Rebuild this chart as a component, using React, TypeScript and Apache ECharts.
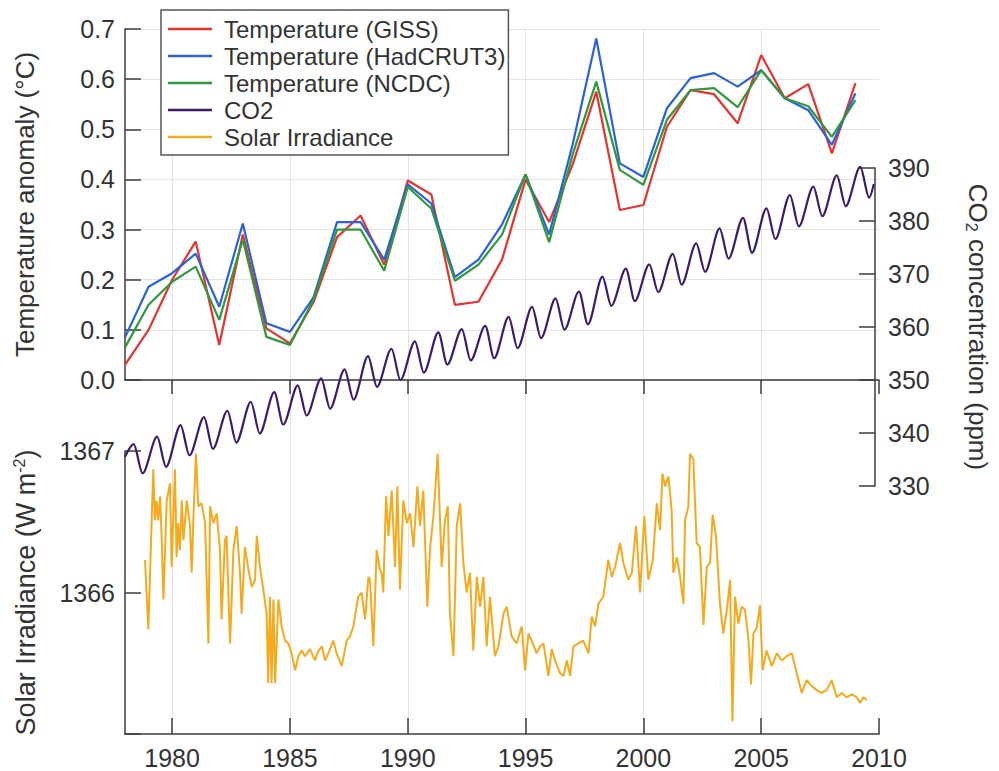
import React, { useEffect, useRef } from 'react';
import * as echarts from 'echarts';

// ---------- data ----------
const years = [1978, 1979, 1980, 1981, 1982, 1983, 1984, 1985, 1986, 1987, 1988, 1989, 1990, 1991, 1992, 1993,
  1994, 1995, 1996, 1997, 1998, 1999, 2000, 2001, 2002, 2003, 2004, 2005, 2006, 2007, 2008, 2009];

const tempGISS = [0.03, 0.10, 0.20, 0.276, 0.07, 0.29, 0.103, 0.073, 0.155, 0.285, 0.328, 0.23, 0.398, 0.37, 0.15, 0.156,
  0.24, 0.40, 0.315, 0.43, 0.575, 0.339, 0.349, 0.505, 0.578, 0.57, 0.512, 0.648, 0.562, 0.59, 0.452, 0.592];
const tempHadCRUT3 = [0.085, 0.186, 0.213, 0.252, 0.146, 0.312, 0.113, 0.096, 0.165, 0.315, 0.315, 0.24, 0.39, 0.352, 0.205, 0.24,
  0.31, 0.41, 0.29, 0.47, 0.681, 0.432, 0.405, 0.542, 0.602, 0.612, 0.585, 0.618, 0.562, 0.538, 0.469, 0.572];
const tempNCDC = [0.065, 0.15, 0.196, 0.226, 0.12, 0.28, 0.086, 0.07, 0.16, 0.30, 0.30, 0.218, 0.385, 0.342, 0.198, 0.23,
  0.29, 0.41, 0.275, 0.45, 0.595, 0.419, 0.389, 0.519, 0.578, 0.582, 0.544, 0.618, 0.562, 0.546, 0.485, 0.558];

// CO2 (ppm): start, then seasonal maxima / minima of each year [year, ppm]
const co2Series = [
  [1978.0, 335.5], [1978.37, 337.9], [1978.75, 332.4],
  [1979.37, 339.3], [1979.75, 333.6],
  [1980.37, 341.5], [1980.75, 335.8],
  [1981.37, 343.0], [1981.75, 337.0],
  [1982.37, 344.2], [1982.75, 338.2],
  [1983.37, 345.9], [1983.75, 339.9],
  [1984.37, 347.7], [1984.75, 341.6],
  [1985.37, 349.0], [1985.75, 343.3],
  [1986.37, 350.3], [1986.75, 344.6],
  [1987.37, 352.0], [1987.75, 346.3],
  [1988.37, 354.5], [1988.75, 348.7],
  [1989.37, 355.9], [1989.75, 350.0],
  [1990.37, 357.3], [1990.75, 351.4],
  [1991.37, 359.0], [1991.75, 352.9],
  [1992.37, 359.6], [1992.75, 353.7],
  [1993.37, 360.2], [1993.75, 354.1],
  [1994.37, 361.9], [1994.75, 356.0],
  [1995.37, 363.8], [1995.75, 357.9],
  [1996.37, 365.4], [1996.75, 359.5],
  [1997.37, 366.7], [1997.75, 360.5],
  [1998.37, 369.5], [1998.75, 364.0],
  [1999.37, 371.0], [1999.75, 364.9],
  [2000.37, 371.8], [2000.75, 366.6],
  [2001.37, 373.8], [2001.75, 368.0],
  [2002.37, 375.8], [2002.75, 370.4],
  [2003.37, 378.6], [2003.75, 372.9],
  [2004.37, 380.6], [2004.75, 374.0],
  [2005.37, 382.4], [2005.75, 376.6],
  [2006.37, 384.9], [2006.75, 379.0],
  [2007.37, 386.5], [2007.75, 380.9],
  [2008.37, 388.6], [2008.75, 382.8],
  [2009.37, 390.2], [2009.75, 384.4], [2009.95, 387.0],
];

// Solar irradiance (W m-2) [year, value]
const solarIrradiance = [
  [1978.85, 1366.23], [1978.99, 1365.74], [1979.20, 1366.87], [1979.27, 1366.51], [1979.34, 1366.65], [1979.41, 1366.51],
  [1979.49, 1366.68], [1979.56, 1366.37], [1979.63, 1365.95], [1979.70, 1366.30], [1979.77, 1366.65], [1979.91, 1366.77],
  [1979.98, 1366.18], [1980.12, 1366.87], [1980.19, 1366.25], [1980.26, 1366.49], [1980.33, 1366.30], [1980.41, 1366.65],
  [1980.48, 1366.37], [1980.62, 1366.65], [1980.76, 1366.47], [1980.83, 1366.14], [1980.90, 1366.51], [1981.01, 1366.98],
  [1981.11, 1366.61], [1981.25, 1366.63], [1981.40, 1366.49], [1981.54, 1365.64], [1981.61, 1366.61], [1981.75, 1366.49],
  [1981.89, 1366.56], [1982.03, 1366.30], [1982.10, 1365.81], [1982.24, 1366.37], [1982.31, 1366.40], [1982.46, 1365.64],
  [1982.60, 1366.30], [1982.74, 1366.47], [1982.88, 1366.14], [1982.95, 1365.85], [1983.09, 1366.32], [1983.24, 1366.16],
  [1983.38, 1366.04], [1983.52, 1366.09], [1983.59, 1366.40], [1983.73, 1366.18], [1983.87, 1366.02], [1984.01, 1365.85],
  [1984.08, 1365.36], [1984.15, 1365.97], [1984.22, 1365.36], [1984.30, 1365.95], [1984.37, 1365.36], [1984.51, 1365.95],
  [1984.65, 1365.76], [1984.79, 1365.66], [1984.93, 1365.64], [1985.07, 1365.57], [1985.22, 1365.45], [1985.36, 1365.55],
  [1985.50, 1365.59], [1985.64, 1365.55], [1985.85, 1365.60], [1986.06, 1365.52], [1986.21, 1365.59], [1986.35, 1365.62],
  [1986.49, 1365.52], [1986.63, 1365.57], [1986.84, 1365.66], [1986.98, 1365.57], [1987.20, 1365.48], [1987.41, 1365.66],
  [1987.55, 1365.69], [1987.69, 1365.76], [1987.90, 1365.97], [1988.04, 1366.00], [1988.19, 1365.81], [1988.33, 1366.11],
  [1988.40, 1366.09], [1988.54, 1365.62], [1988.68, 1366.30], [1988.82, 1366.16], [1988.89, 1366.14], [1988.96, 1366.00],
  [1989.08, 1366.68], [1989.18, 1366.40], [1989.32, 1366.72], [1989.46, 1366.18], [1989.56, 1366.75], [1989.67, 1366.02],
  [1989.81, 1366.65], [1989.96, 1366.49], [1990.10, 1366.56], [1990.24, 1366.32], [1990.41, 1366.75], [1990.52, 1366.47],
  [1990.66, 1366.72], [1990.83, 1365.90], [1990.95, 1366.32], [1991.09, 1366.54], [1991.27, 1366.98], [1991.44, 1366.18],
  [1991.58, 1366.51], [1991.70, 1366.61], [1991.79, 1365.85], [1991.94, 1365.55], [1992.08, 1366.47], [1992.22, 1366.63],
  [1992.36, 1366.21], [1992.50, 1366.00], [1992.64, 1366.14], [1992.78, 1365.59], [1992.93, 1366.11], [1993.07, 1365.90],
  [1993.21, 1366.11], [1993.35, 1365.62], [1993.49, 1365.97], [1993.70, 1365.55], [1993.85, 1365.62], [1994.06, 1365.85],
  [1994.20, 1365.90], [1994.41, 1365.69], [1994.62, 1365.64], [1994.84, 1365.76], [1994.98, 1365.45], [1995.12, 1365.71],
  [1995.26, 1365.66], [1995.47, 1365.57], [1995.62, 1365.62], [1995.76, 1365.64], [1995.97, 1365.41], [1996.11, 1365.60],
  [1996.25, 1365.52], [1996.46, 1365.43], [1996.61, 1365.41], [1996.75, 1365.52], [1996.89, 1365.41], [1997.03, 1365.62],
  [1997.24, 1365.64], [1997.45, 1365.66], [1997.67, 1365.57], [1997.81, 1365.83], [1997.95, 1365.76], [1998.09, 1365.92],
  [1998.30, 1365.97], [1998.51, 1366.23], [1998.66, 1366.11], [1998.80, 1366.18], [1999.01, 1366.35], [1999.15, 1366.21],
  [1999.36, 1366.09], [1999.51, 1366.14], [1999.69, 1366.47], [1999.86, 1366.00], [2000.04, 1366.54], [2000.21, 1366.09],
  [2000.40, 1366.23], [2000.57, 1366.63], [2000.71, 1366.44], [2000.81, 1366.84], [2000.92, 1366.75], [2001.06, 1366.82],
  [2001.20, 1366.58], [2001.27, 1366.14], [2001.42, 1366.25], [2001.56, 1366.11], [2001.70, 1365.92], [2001.77, 1366.51],
  [2001.91, 1366.61], [2001.98, 1366.98], [2002.12, 1366.94], [2002.26, 1366.35], [2002.40, 1366.32], [2002.55, 1365.77],
  [2002.69, 1366.18], [2002.83, 1366.21], [2002.94, 1366.55], [2003.08, 1366.40], [2003.25, 1365.92], [2003.39, 1365.71],
  [2003.56, 1365.90], [2003.68, 1366.09], [2003.78, 1365.09], [2003.89, 1365.97], [2004.03, 1365.78], [2004.17, 1365.90],
  [2004.31, 1365.88], [2004.46, 1365.67], [2004.57, 1365.35], [2004.67, 1365.71], [2004.81, 1365.75], [2004.95, 1365.91],
  [2005.06, 1365.45], [2005.23, 1365.59], [2005.45, 1365.48], [2005.66, 1365.57], [2005.87, 1365.52], [2006.08, 1365.55],
  [2006.30, 1365.57], [2006.51, 1365.43], [2006.72, 1365.29], [2006.93, 1365.38], [2007.14, 1365.34], [2007.36, 1365.31],
  [2007.57, 1365.29], [2007.78, 1365.31], [2007.99, 1365.38], [2008.21, 1365.26], [2008.42, 1365.29], [2008.63, 1365.26],
  [2008.84, 1365.28], [2009.05, 1365.26], [2009.20, 1365.22], [2009.34, 1365.26], [2009.48, 1365.24],
];

const yearTicks = [1980, 1985, 1990, 1995, 2000, 2005, 2010];
const yearGridLines = [1980, 1985, 1990, 1995, 2000, 2005];

const seriesNames = ['Temperature (GISS)', 'Temperature (HadCRUT3)', 'Temperature (NCDC)', 'CO2', 'Solar Irradiance'];
const seriesColors = ['#e5342f', '#2a62db', '#2f9a3c', '#3b1c6c', '#f5aa1c'];

// ---------- styling ----------
const FONT = "'Liberation Sans', Arial, Helvetica, sans-serif";
const AXIS_COLOR = '#3c3c3c';
const TEXT_COLOR = '#333333';
const GRID_COLOR = '#e3e3e3';

const axisLine = { show: true, lineStyle: { color: AXIS_COLOR, width: 1.5 } };
const tickStyle = { color: AXIS_COLOR, width: 1.5 };
const labelFont = { fontSize: 25, color: TEXT_COLOR, fontFamily: FONT };
const gridLineStyle = { type: 'solid', color: GRID_COLOR, width: 1 };

function pairs(xs: number[], ys: number[]) {
  return xs.map((x, i) => [x, ys[i]]);
}

function buildOption() {
  return {
    animation: false,
    backgroundColor: '#ffffff',
    textStyle: { fontFamily: FONT },
    grid: [
      { left: 125, top: 29, width: 754, height: 351 },
      { left: 125, top: 168, width: 754, height: 318 },
      { left: 125, top: 451, width: 754, height: 283 },
      { left: 125, top: 29, width: 754, height: 705 },
    ],
    xAxis: [
      {
        gridIndex: 0, type: 'value', min: 1978, max: 2010, position: 'top',
        axisLine,
        axisTick: { show: true, inside: true, length: 14, customValues: yearTicks, lineStyle: tickStyle },
        axisLabel: { show: false },
        splitLine: { show: false },
      },
      { gridIndex: 1, type: 'value', min: 1978, max: 2010, show: false },
      {
        gridIndex: 2, type: 'value', min: 1978, max: 2010, position: 'bottom',
        axisLine,
        axisTick: { show: true, inside: true, length: 16, customValues: yearTicks, lineStyle: tickStyle },
        axisLabel: { ...labelFont, margin: 11, customValues: yearTicks, formatter: (v: number) => String(v) },
        splitLine: { show: false },
      },
      {
        gridIndex: 3, type: 'value', min: 1978, max: 2010, position: 'bottom',
        axisLine: { show: false },
        axisTick: { show: true, length: 0, customValues: yearGridLines, lineStyle: { opacity: 0 } },
        axisLabel: { show: false },
        splitLine: { show: true, lineStyle: gridLineStyle },
        z: 0,
      },
    ],
    yAxis: [
      {
        gridIndex: 0, type: 'value', min: 0, max: 0.7, interval: 0.1, position: 'left',
        axisLine,
        axisTick: { show: true, inside: true, length: 16, lineStyle: tickStyle },
        axisLabel: { ...labelFont, margin: 10, formatter: (v: number) => v.toFixed(1) },
        splitLine: { show: true, lineStyle: gridLineStyle },
        name: 'Temperature anomaly (°C)', nameLocation: 'middle', nameRotate: 90, nameGap: 87,
        nameTextStyle: { fontSize: 26, color: TEXT_COLOR, fontFamily: FONT },
      },
      {
        gridIndex: 1, type: 'value', min: 330, max: 390, interval: 10, position: 'right',
        axisLine,
        axisTick: { show: true, inside: true, length: 16, lineStyle: tickStyle },
        axisLabel: { ...labelFont, margin: 13 },
        splitLine: { show: false },
        name: '{t|CO}{s|2}{t| concentration (ppm)}', nameLocation: 'middle', nameRotate: -90, nameGap: 88,
        nameTextStyle: {
          color: TEXT_COLOR, fontFamily: FONT,
          rich: {
            t: { fontSize: 26, lineHeight: 30, color: TEXT_COLOR, fontFamily: FONT },
            s: { fontSize: 16, lineHeight: 15, verticalAlign: 'bottom', color: TEXT_COLOR, fontFamily: FONT },
          },
        },
      },
      {
        gridIndex: 2, type: 'value', min: 1365, max: 1367, interval: 1, position: 'left',
        axisLine,
        axisTick: { show: true, inside: true, length: 16, lineStyle: tickStyle },
        axisLabel: { ...labelFont, margin: 10, formatter: (v: number) => (v === 1365 ? '' : String(v)) },
        splitLine: { show: false },
        name: '{t|Solar Irradiance (W m}{s|-2}{t|)}', nameLocation: 'middle', nameRotate: 90, nameGap: 84,
        nameTextStyle: {
          color: TEXT_COLOR, fontFamily: FONT,
          rich: {
            t: { fontSize: 27, lineHeight: 30, color: TEXT_COLOR, fontFamily: FONT },
            s: { fontSize: 16, lineHeight: 15, verticalAlign: 'top', color: TEXT_COLOR, fontFamily: FONT },
          },
        },
      },
      { gridIndex: 3, type: 'value', min: 0, max: 1, show: false },
    ],
    legend: {
      orient: 'vertical', left: 161, top: 10,
      icon: 'rect',
      itemWidth: 44, itemHeight: 2.5, itemGap: 1,
      padding: [6, 3, 5, 7],
      backgroundColor: '#ffffff', borderColor: '#555555', borderWidth: 1.5, borderRadius: 0,
      textStyle: { fontSize: 24, lineHeight: 26, color: TEXT_COLOR, fontFamily: FONT, padding: [0, 0, 0, 7] },
      data: seriesNames,
    },
    series: [
      {
        name: seriesNames[0], type: 'line', xAxisIndex: 0, yAxisIndex: 0, data: pairs(years, tempGISS),
        symbol: 'none', lineStyle: { width: 2.2, color: seriesColors[0] }, itemStyle: { color: seriesColors[0] }, z: 3,
      },
      {
        name: seriesNames[1], type: 'line', xAxisIndex: 0, yAxisIndex: 0, data: pairs(years, tempHadCRUT3),
        symbol: 'none', lineStyle: { width: 2.2, color: seriesColors[1] }, itemStyle: { color: seriesColors[1] }, z: 4,
      },
      {
        name: seriesNames[2], type: 'line', xAxisIndex: 0, yAxisIndex: 0, data: pairs(years, tempNCDC),
        symbol: 'none', lineStyle: { width: 2.2, color: seriesColors[2] }, itemStyle: { color: seriesColors[2] }, z: 5,
      },
      {
        name: seriesNames[3], type: 'line', xAxisIndex: 1, yAxisIndex: 1, data: co2Series, clip: false,
        smooth: 0.3, smoothMonotone: 'x',
        symbol: 'none', lineStyle: { width: 2.2, color: seriesColors[3] }, itemStyle: { color: seriesColors[3] }, z: 6,
      },
      {
        name: seriesNames[4], type: 'line', xAxisIndex: 2, yAxisIndex: 2, data: solarIrradiance,
        symbol: 'none', lineStyle: { width: 2, color: seriesColors[4] }, itemStyle: { color: seriesColors[4] }, z: 2,
      },
    ],
  };
}

export default function App() {
  const ref = useRef<HTMLDivElement>(null);
  useEffect(() => {
    if (!ref.current) return;
    const chart = echarts.init(ref.current, null, { renderer: 'svg' });
    chart.setOption(buildOption() as any);
    return () => chart.dispose();
  }, []);
  return (
    <div
      ref={ref}
      style={{ position: 'fixed', left: 0, top: 0, width: 999, height: 771, background: '#ffffff' }}
    />
  );
}
